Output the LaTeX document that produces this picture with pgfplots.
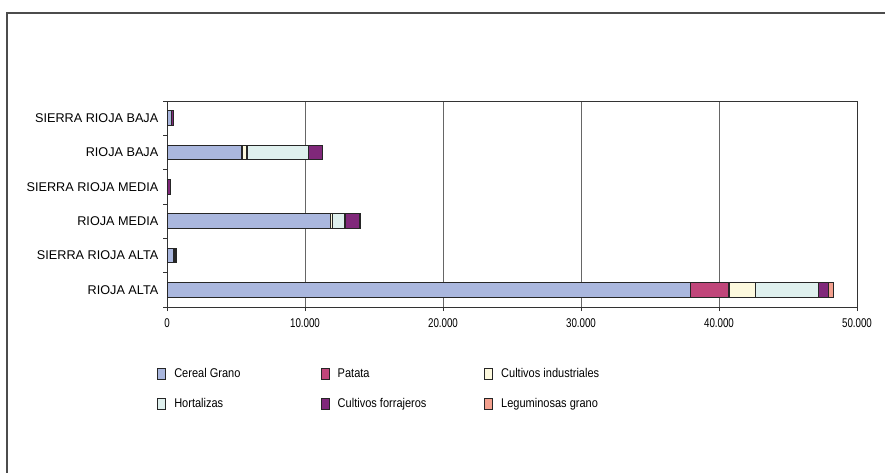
\documentclass[border=0pt]{standalone}
\usepackage{pgfplots}
\pgfplotsset{compat=1.18}
\usepackage{fontspec}
\setmainfont{Liberation Sans}
\newfontfamily\narrowt[FakeStretch=0.77]{Liberation Sans}
\newfontfamily\narrowl[FakeStretch=0.87]{Liberation Sans}
\definecolor{cereal}{RGB}{170,183,222}
\definecolor{patata}{RGB}{192,70,122}
\definecolor{indus}{RGB}{253,249,222}
\definecolor{horta}{RGB}{223,240,238}
\definecolor{forra}{RGB}{128,40,122}
\definecolor{legum}{RGB}{243,160,142}
\begin{document}
\begin{tikzpicture}
\useasboundingbox (0,0) rectangle (663.75pt,354pt);
\fill[white] (0,0) rectangle (663.75pt,354pt);
\draw[black!70, line width=0.9pt] (5.25pt,-2pt) -- (5.25pt,344.25pt) -- (670pt,344.25pt);
\begin{axis}[
  scale only axis,
  width=517.5pt, height=154.5pt,
  at={(125.25pt,123.75pt)}, anchor=south west,
  xbar stacked,
  bar width=11pt,
  xmin=0, xmax=50000,
  ymin=-0.5, ymax=5.5,
  xtick={0,10000,20000,30000,40000,50000},
  ytick={0,1,2,3,4,5},
  yticklabels={RIOJA ALTA,SIERRA RIOJA ALTA,RIOJA MEDIA,SIERRA RIOJA MEDIA,RIOJA BAJA,SIERRA RIOJA BAJA},
  minor ytick={-0.5,0.5,1.5,2.5,3.5,4.5,5.5},
  ytick pos=left, xtick pos=bottom,
  major y tick style={draw=none},
  minor y tick style={black!80, line width=0.6pt},
  major x tick style={black!80, line width=0.6pt},
  tick align=outside,
  major tick length=3pt, minor tick length=3pt,
  xmajorgrids,
  major x grid style={black!60, line width=0.7pt},
  axis line style={black!80, line width=0.7pt},
  yticklabel style={font=\fontsize{9.5pt}{11pt}\selectfont},
  xticklabel style={font=\narrowt\fontsize{9.5pt}{11pt}\selectfont, yshift=-2pt},
  /pgf/number format/assume math mode=true,
  /pgf/number format/.cd, 1000 sep={.}, /pgfplots/.cd,
  scaled x ticks=false,
  every axis plot/.append style={draw=black!85, line width=0.9pt},
  legend columns=3,
  legend cell align=left,
  legend image code/.code={\draw[#1, line width=0.6pt] (0pt,-4pt) rectangle (6pt,4pt);},
  legend style={draw=none, fill=none, at={(axis description cs:-0.02,-0.271)}, anchor=north west,
    font=\narrowl\fontsize{9.5pt}{11pt}\selectfont, row sep=10.25pt,
    /tikz/every odd column/.append style={column sep=4pt},
    /tikz/every even column/.append style={column sep=2pt}},
]
\addplot[fill=cereal] coordinates {(37950,0) (500,1) (11850,2) (50,3) (5400,4) (340,5)};
\addplot[fill=patata] coordinates {(2770,0) (0,1) (0,2) (0,3) (50,4) (0,5)};
\addplot[fill=indus] coordinates {(1940,0) (0,1) (150,2) (0,3) (350,4) (0,5)};
\addplot[fill=horta] coordinates {(4540,0) (0,1) (900,2) (0,3) (4430,4) (0,5)};
\addplot[fill=forra] coordinates {(720,0) (150,1) (1060,2) (200,3) (1030,4) (120,5)};
\addplot[fill=legum] coordinates {(360,0) (0,1) (60,2) (0,3) (0,4) (0,5)};
\addlegendentry{\makebox[106pt][l]{Cereal Grano}}
\addlegendentry{\makebox[106pt][l]{Patata}}
\addlegendentry{\makebox[106pt][l]{Cultivos industriales}}
\addlegendentry{\makebox[106pt][l]{Hortalizas}}
\addlegendentry{\makebox[106pt][l]{Cultivos forrajeros}}
\addlegendentry{\makebox[106pt][l]{Leguminosas grano}}
\end{axis}
\end{tikzpicture}
\end{document}
